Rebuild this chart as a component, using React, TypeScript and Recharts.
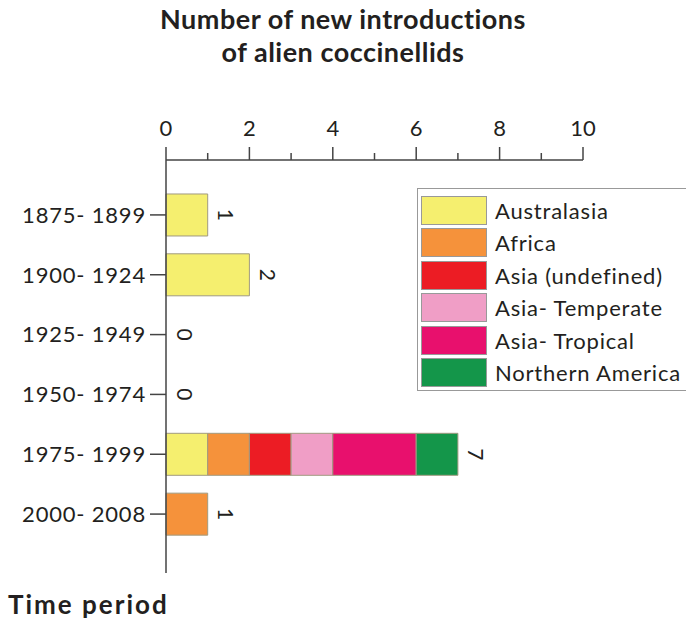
import React from "react";
import { ComposedChart, Bar, Line, XAxis, YAxis } from "recharts";

const periods = ["1875- 1899", "1900- 1924", "1925- 1949", "1950- 1974", "1975- 1999", "2000- 2008"];
const australasia = [1, 2, 0, 0, 1, 0];
const africa = [0, 0, 0, 0, 1, 1];
const asiaUndefined = [0, 0, 0, 0, 1, 0];
const asiaTemperate = [0, 0, 0, 0, 1, 0];
const asiaTropical = [0, 0, 0, 0, 2, 0];
const northernAmerica = [0, 0, 0, 0, 1, 0];
const xTicks = [0, 1, 2, 3, 4, 5, 6, 7, 8, 9, 10];

const series = [
  { key: "australasia", name: "Australasia", values: australasia, color: "#f5ef6f" },
  { key: "africa", name: "Africa", values: africa, color: "#f5923b" },
  { key: "asiaUndefined", name: "Asia (undefined)", values: asiaUndefined, color: "#ec1c24" },
  { key: "asiaTemperate", name: "Asia- Temperate", values: asiaTemperate, color: "#f09ec6" },
  { key: "asiaTropical", name: "Asia- Tropical", values: asiaTropical, color: "#e8106d" },
  { key: "northernAmerica", name: "Northern America", values: northernAmerica, color: "#14964a" },
];

const data = periods.map((period, i) => {
  const row: Record<string, any> = { period };
  let total = 0;
  series.forEach((s) => {
    row[s.key] = s.values[i];
    total += s.values[i];
  });
  row.total = total;
  return row;
});

const FONT = "Lato, 'DejaVu Sans', sans-serif";
const INK = "#231f20";

const TopTick = (props: any) => {
  const { x, y, payload } = props;
  const major = payload.value % 2 === 0;
  return (
    <g>
      <line x1={x} x2={x} y1={y} y2={y - (major ? 13 : 7)} stroke="#444" strokeWidth={1.5} />
      {major && (
        <text x={x} y={y - 24} textAnchor="middle" fontSize={22} fill={INK} fontFamily={FONT}>
          {payload.value}
        </text>
      )}
    </g>
  );
};

const TotalDot = (props: any) => {
  const { cx, cy, value, index } = props;
  const x = cx + 19;
  const v = Array.isArray(value) ? value[1] : value;
  return (
    <text
      key={`total-${index}`}
      x={x}
      y={cy}
      transform={`rotate(90, ${x}, ${cy})`}
      textAnchor="middle"
      dominantBaseline="central"
      fontSize={21}
      fill={INK}
      fontFamily={FONT}
    >
      {v}
    </text>
  );
};

export default function App() {
  return (
    <div style={{ position: "absolute", left: 0, top: 0, width: 686, height: 623, background: "#fff", fontFamily: FONT }}>
      <div
        style={{
          position: "absolute",
          left: 0,
          top: 2,
          width: 686,
          textAlign: "center",
          fontWeight: 700,
          fontSize: 27,
          letterSpacing: 0.5,
          lineHeight: "33px",
          color: INK,
        }}
      >
        Number of new introductions
        <br />
        of alien coccinellids
      </div>
      <ComposedChart
        width={686}
        height={623}
        data={data}
        layout="vertical"
        barCategoryGap="15%"
        margin={{ top: 100, left: 6, right: 103, bottom: 50 }}
      >
        <XAxis
          type="number"
          orientation="top"
          domain={[0, 10]}
          ticks={xTicks}
          interval={0}
          height={60}
          tickSize={0}
          tickMargin={0}
          tick={<TopTick />}
          axisLine={{ stroke: "#444", strokeWidth: 1.5 }}
        />
        <YAxis
          type="category"
          dataKey="period"
          width={160}
          padding={{ top: 25, bottom: 29 }}
          tickSize={16}
          tickMargin={4}
          tickLine={{ stroke: "#444", strokeWidth: 1.5 }}
          axisLine={{ stroke: "#444", strokeWidth: 1.5 }}
          tick={{ fontSize: 22, fill: INK, fontFamily: FONT, style: { letterSpacing: 0.8 } }}
        />
        {series.map((s) => (
          <Bar
            key={s.key}
            dataKey={s.key}
            name={s.name}
            stackId="a"
            fill={s.color}
            stroke="#a09a80"
            strokeWidth={1}
            isAnimationActive={false}
          />
        ))}
        <Line
          dataKey="total"
          stroke="none"
          legendType="none"
          dot={<TotalDot />}
          activeDot={false}
          isAnimationActive={false}
        />
      </ComposedChart>
      <div
        style={{
          position: "absolute",
          left: 417,
          top: 188,
          width: 272,
          height: 203,
          border: "1px solid #999",
          boxSizing: "border-box",
          paddingTop: 5,
          paddingLeft: 3,
        }}
      >
        {series.map((s) => (
          <div key={s.key} style={{ display: "flex", alignItems: "center", height: 32.5 }}>
            <div style={{ width: 66, height: 29, background: s.color, border: "1px solid #999", boxSizing: "border-box" }} />
            <span style={{ marginLeft: 8, fontSize: 22, letterSpacing: 0.8, color: INK, whiteSpace: "nowrap" }}>{s.name}</span>
          </div>
        ))}
      </div>
      <div style={{ position: "absolute", left: 8, top: 588, fontWeight: 700, fontSize: 26, letterSpacing: 2, color: INK }}>
        Time period
      </div>
    </div>
  );
}
